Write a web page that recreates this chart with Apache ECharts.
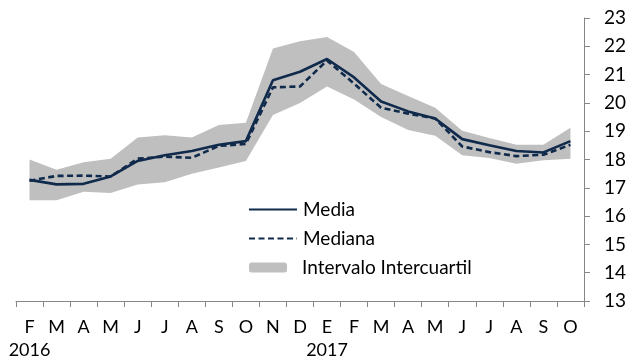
<!DOCTYPE html>
<html><head><meta charset="utf-8">
<script src="https://cdn.jsdelivr.net/npm/echarts@6/dist/echarts.min.js"></script>
<style>html,body{margin:0;padding:0;background:#fff}#c{width:629px;height:362px}</style>
</head><body><div id="c"></div>
<script>
var months = ['F','M','A','M','J','J','A','S','O','N','D','E','F','M','A','M','J','J','A','S','O'];
var years  = ['2016','','','','','','','','','','','2017','','','','','','','','',''];
var media   = [17.28,17.12,17.14,17.4,17.95,18.15,18.3,18.52,18.65,20.8,21.1,21.55,20.9,20.05,19.7,19.45,18.72,18.5,18.3,18.25,18.65];
var mediana = [17.25,17.42,17.43,17.4,18.03,18.1,18.06,18.48,18.55,20.55,20.58,21.5,20.68,19.83,19.62,19.45,18.46,18.26,18.12,18.17,18.52];
var q1      = [16.56,16.56,16.86,16.82,17.12,17.2,17.5,17.72,17.95,19.57,20.0,20.58,20.12,19.5,19.04,18.84,18.15,18.05,17.85,17.97,18.03];
var q3      = [18.0,17.64,17.9,18.03,18.78,18.86,18.78,19.22,19.3,21.92,22.18,22.33,21.8,20.67,20.24,19.83,19.02,18.76,18.52,18.52,19.12];
var yTicks  = [13,14,15,16,17,18,19,20,21,22,23];

var spread = q3.map(function(v,i){ return +(v - q1[i]).toFixed(3); });
var navy = '#102A4C';
var font = 'Lato, "Liberation Sans", sans-serif';

var chart = echarts.init(document.getElementById('c'));
chart.setOption({
  animation:false,
  grid:{left:16,right:42,top:18,bottom:57},
  legend:[{
    orient:'vertical', left:248, top:200, padding:0, itemGap:10, itemWidth:48, itemHeight:16,
    itemStyle:{opacity:0},
    textStyle:{fontFamily:font,fontSize:19,color:'#000',padding:[0,0,0,1]},
    data:['Media','Mediana']
  },{
    orient:'vertical', left:249, top:258, padding:0, itemWidth:38, itemHeight:10,
    textStyle:{fontFamily:font,fontSize:19,color:'#000',padding:[0,0,0,10]},
    data:[{name:'Intervalo Intercuartil',icon:'roundRect',itemStyle:{color:'#BFBFBF'}}]
  }],
  xAxis:{
    type:'category', data:months, boundaryGap:true,
    axisLine:{lineStyle:{color:'#868686',width:1}},
    axisTick:{show:true,length:6,alignWithLabel:false,lineStyle:{color:'#868686'}},
    axisLabel:{
      interval:0, margin:14, fontFamily:font, fontSize:18, color:'#000', lineHeight:23.5,
      formatter:function(v,i){ return v + '\n' + (years[i] || ' '); }
    },
    splitLine:{show:false}
  },
  yAxis:{
    type:'value', position:'right', min:yTicks[0], max:yTicks[yTicks.length-1], interval:1,
    axisLine:{show:true,lineStyle:{color:'#868686',width:1}},
    axisTick:{show:true,length:6,inside:false,lineStyle:{color:'#868686'}},
    axisLabel:{margin:20,fontFamily:font,fontSize:19,color:'#000'},
    splitLine:{show:false}
  },
  series:[
    {name:'q1', type:'line', data:q1, stack:'band', symbol:'none', silent:true,
     lineStyle:{opacity:0}, areaStyle:{opacity:0}, z:1},
    {name:'Intervalo Intercuartil', type:'line', data:spread, stack:'band', symbol:'none', silent:true,
     lineStyle:{opacity:0,width:0}, itemStyle:{color:'#BFBFBF'}, areaStyle:{color:'#BFBFBF',opacity:1}, z:1},
    {name:'Media', type:'line', data:media, symbol:'none', itemStyle:{color:navy},
     lineStyle:{color:navy,width:2.6}, z:3},
    {name:'Mediana', type:'line', data:mediana, symbol:'none', itemStyle:{color:navy},
     lineStyle:{color:navy,width:2.6,type:[6,3.5]}, z:4}
  ]
});
</script></body></html>
